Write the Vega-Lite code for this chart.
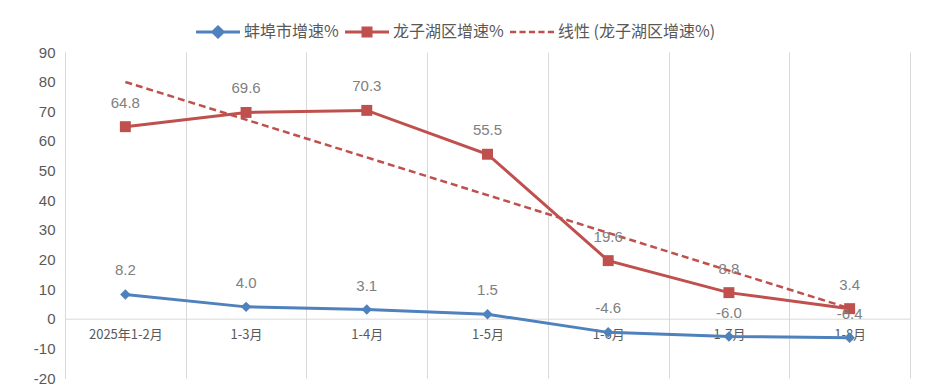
{
  "$schema": "https://vega.github.io/schema/vega-lite/v6.json",
  "width": 845,
  "height": 326,
  "autosize": {"type": "none"},
  "padding": {"left": 65, "top": 52, "right": 18, "bottom": 10},
  "config": {
    "view": {"stroke": null},
    "font": "Noto Sans CJK SC",
    "locale": {"number": {"decimal": ".", "thousands": ",", "grouping": [3], "currency": ["", ""], "minus": "-"}}
  },
  "data": {"values": [
    {"month": "2025年1-2月", "series": "蚌埠市增速%", "value": 8.2},
    {"month": "1-3月", "series": "蚌埠市增速%", "value": 4.0},
    {"month": "1-4月", "series": "蚌埠市增速%", "value": 3.1},
    {"month": "1-5月", "series": "蚌埠市增速%", "value": 1.5},
    {"month": "1-6月", "series": "蚌埠市增速%", "value": -4.6},
    {"month": "1-7月", "series": "蚌埠市增速%", "value": -6.0},
    {"month": "1-8月", "series": "蚌埠市增速%", "value": -6.4},
    {"month": "2025年1-2月", "series": "龙子湖区增速%", "value": 64.8},
    {"month": "1-3月", "series": "龙子湖区增速%", "value": 69.6},
    {"month": "1-4月", "series": "龙子湖区增速%", "value": 70.3},
    {"month": "1-5月", "series": "龙子湖区增速%", "value": 55.5},
    {"month": "1-6月", "series": "龙子湖区增速%", "value": 19.6},
    {"month": "1-7月", "series": "龙子湖区增速%", "value": 8.8},
    {"month": "1-8月", "series": "龙子湖区增速%", "value": 3.4},
    {"month": "2025年1-2月", "series": "线性 (龙子湖区增速%)", "value": 79.9},
    {"month": "1-8月", "series": "线性 (龙子湖区增速%)", "value": 3.5}
  ]},
  "encoding": {
    "x": {
      "field": "month", "type": "ordinal",
      "sort": ["2025年1-2月", "1-3月", "1-4月", "1-5月", "1-6月", "1-7月", "1-8月"],
      "scale": {"type": "band", "paddingInner": 0, "paddingOuter": 0},
      "axis": {
        "title": null, "orient": "bottom", "offset": -59.3, "labelAngle": 0,
        "domainColor": "#d9d9d9", "ticks": false, "tickBand": "extent",
        "grid": true, "gridColor": "#d9d9d9", "gridWidth": 1,
        "labelColor": "#595959", "labelFontSize": 13, "labelPadding": 10
      }
    },
    "y": {
      "field": "value", "type": "quantitative",
      "scale": {"domain": [-20, 90], "nice": false, "zero": false},
      "axis": {
        "title": null, "grid": false, "ticks": false,
        "values": [-20, -10, 0, 10, 20, 30, 40, 50, 60, 70, 80, 90],
        "domainColor": "#d9d9d9", "labelColor": "#595959",
        "labelFontSize": 15, "labelFont": "Liberation Sans", "labelPadding": 10
      }
    }
  },
  "layer": [
    {
      "transform": [{"filter": "datum.series === '线性 (龙子湖区增速%)'"}],
      "mark": {"type": "line", "color": "#c0504d", "strokeWidth": 2.5, "strokeDash": [7, 4]}
    },
    {
      "transform": [{"filter": "datum.series === '龙子湖区增速%'"}],
      "mark": {"type": "line", "color": "#c0504d", "strokeWidth": 3}
    },
    {
      "transform": [{"filter": "datum.series === '蚌埠市增速%'"}],
      "mark": {"type": "line", "color": "#4f81bd", "strokeWidth": 3}
    },
    {
      "transform": [{"filter": "datum.series === '龙子湖区增速%'"}],
      "mark": {"type": "point", "shape": "square", "filled": true, "opacity": 1, "color": "#c0504d", "size": 120}
    },
    {
      "transform": [{"filter": "datum.series === '蚌埠市增速%'"}],
      "mark": {"type": "point", "shape": "diamond", "filled": true, "opacity": 1, "color": "#4f81bd", "size": 110}
    },
    {
      "transform": [{"filter": "datum.series !== '线性 (龙子湖区增速%)'"}],
      "mark": {"type": "text", "dy": -24, "color": "#808080", "fontSize": 15, "font": "Liberation Sans"},
      "encoding": {"text": {"field": "value", "type": "quantitative", "format": ".1f"}}
    },
    {
      "mark": {"type": "point", "filled": true, "opacity": 0},
      "encoding": {
        "color": {
          "field": "series", "type": "nominal",
          "scale": {"domain": ["蚌埠市增速%", "龙子湖区增速%", "线性 (龙子湖区增速%)"], "range": ["#4f81bd", "#c0504d", "#c0504d"]},
          "legend": {
            "orient": "none", "legendX": 131, "legendY": -42, "direction": "horizontal",
            "title": null, "symbolSize": 1936, "symbolStrokeWidth": 0, "symbolOpacity": 1,
            "labelFontSize": 16, "labelColor": "#595959", "columnPadding": 6, "labelOffset": 4
          }
        },
        "shape": {
          "field": "series", "type": "nominal",
          "scale": {"domain": ["蚌埠市增速%", "龙子湖区增速%", "线性 (龙子湖区增速%)"], "range": [
            "M-1,-0.07H-0.26L0,-0.32L0.26,-0.07H1V0.07H0.26L0,0.32L-0.26,0.07H-1Z",
            "M-1,-0.07H-0.25V-0.25H0.25V-0.07H1V0.07H0.25V0.25H-0.25V0.07H-1Z",
            "M-1,-0.06H-0.72V0.06H-1Z M-0.57,-0.06H-0.29V0.06H-0.57Z M-0.14,-0.06H0.14V0.06H-0.14Z M0.29,-0.06H0.57V0.06H0.29Z M0.72,-0.06H1V0.06H0.72Z"
          ]},
          "legend": {
            "orient": "none", "legendX": 131, "legendY": -42, "direction": "horizontal",
            "title": null, "symbolSize": 1936, "symbolStrokeWidth": 0, "symbolOpacity": 1,
            "labelFontSize": 16, "labelColor": "#595959", "columnPadding": 6, "labelOffset": 4
          }
        }
      }
    }
  ]
}
